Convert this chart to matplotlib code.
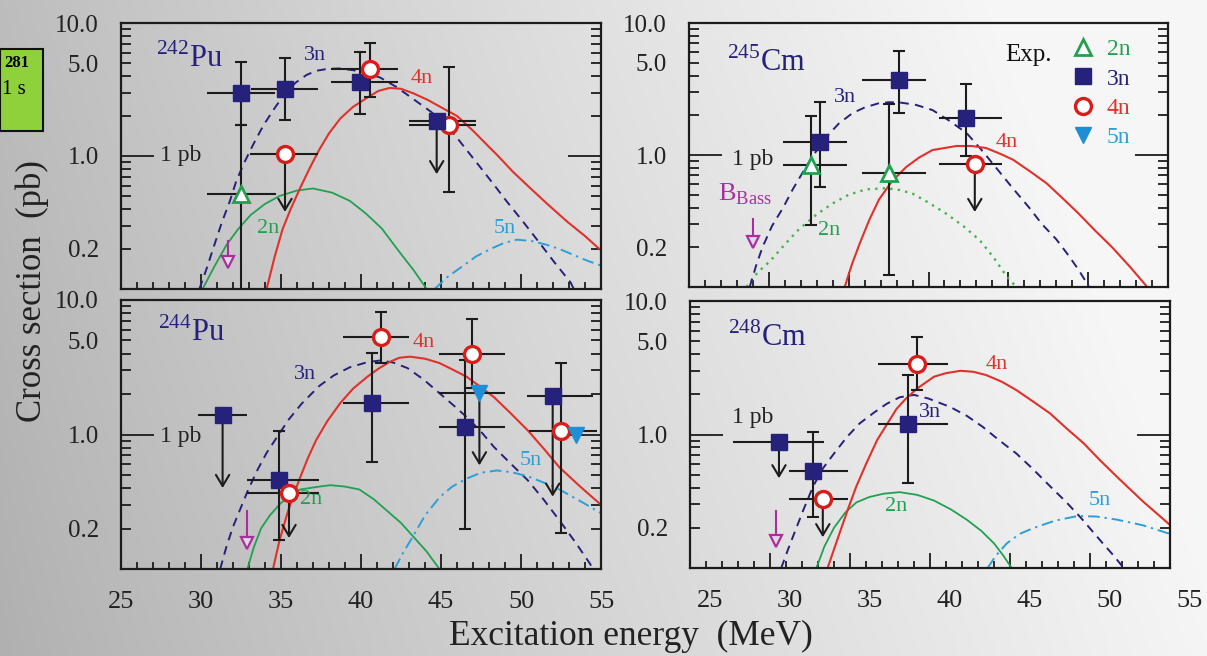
import matplotlib
matplotlib.use("Agg")
import matplotlib.pyplot as plt
import matplotlib.transforms as mtransforms
from matplotlib.lines import Line2D
from matplotlib.patches import Rectangle
from matplotlib.ticker import MultipleLocator, LogLocator, NullFormatter
import numpy as np

plt.rcParams["font.family"] = ["Liberation Serif", "DejaVu Serif"]
plt.rcParams["mathtext.fontset"] = "custom"
plt.rcParams["mathtext.rm"] = "Liberation Serif"

NAVY = "#26217a"
RED = "#e0312b"
RED_MK = "#d81e1a"
GREEN = "#22a050"
GREEN_DOT = "#4cb04c"
BLUE = "#2c9fd9"
BLUE_MK = "#1e8fd6"
MAGENTA = "#a8309e"
INK = "#1c1c1c"

X_TICKS = [25, 30, 35, 40, 45, 50, 55]
Y_TICKS = [0.2, 1.0, 5.0, 10.0]
Y_TICK_LABELS = ["0.2", "1.0", "5.0", "10.0"]

# ---------------------------------------------------------------- 242Pu
pu242_2n = [(30.1, 0.10), (30.8, 0.145), (31.6, 0.215), (32.3, 0.28), (33.1, 0.36),
            (34.0, 0.436), (34.9, 0.50), (36.0, 0.55), (37.0, 0.57), (38.2, 0.53),
            (39.3, 0.46), (40.3, 0.37), (41.3, 0.285), (42.4, 0.19), (43.3, 0.138),
            (44.1, 0.10)]
pu242_3n = [(29.9, 0.10), (30.4, 0.148), (30.75, 0.20), (31.3, 0.316), (31.8, 0.457),
            (32.2, 0.646), (32.7, 0.89), (33.3, 1.245), (33.9, 1.70), (34.6, 2.29),
            (35.25, 2.95), (35.9, 3.55), (36.6, 4.07), (37.2, 4.37), (37.9, 4.52),
            (38.7, 4.55), (39.5, 4.42), (40.3, 4.22), (41.2, 3.89), (42.2, 3.31),
            (43.25, 2.69), (44.4, 2.14), (45.6, 1.58), (46.5, 1.15), (47.5, 0.81),
            (48.3, 0.61), (49.1, 0.457), (50.1, 0.324), (51.2, 0.219), (52.1, 0.158),
            (53.1, 0.112), (53.3, 0.10)]
pu242_4n = [(34.1, 0.100), (34.6, 0.174), (35.1, 0.282), (35.6, 0.398), (36.2, 0.575),
            (36.8, 0.813), (37.4, 1.12), (38.0, 1.48), (38.7, 1.91), (39.5, 2.34),
            (40.4, 2.75), (41.1, 3.09), (41.8, 3.25), (42.5, 3.20), (43.3, 2.95),
            (44.2, 2.63), (45.1, 2.29), (46.0, 2.0), (47.0, 1.55), (48.0, 1.17),
            (48.5, 1.02), (49.5, 0.76), (50.6, 0.57), (51.7, 0.43), (52.9, 0.32),
            (54.0, 0.25), (55.0, 0.195)]
pu242_5n = [(44.6, 0.10), (45.4, 0.123), (46.4, 0.15), (47.2, 0.176), (48.1, 0.20),
            (48.9, 0.221), (49.75, 0.235), (50.7, 0.229), (51.6, 0.215), (52.4, 0.20),
            (53.3, 0.18), (54.1, 0.164), (55.0, 0.15)]
# measured: (channel, E, sigma, E_lo, E_hi, sigma_lo, sigma_hi)
pu242_pts = [("2n", 32.5, 0.52, 30.4, 34.7, 0.05, 1.72),
             ("3n", 32.5, 3.0, 30.4, 34.6, 1.72, 5.1),
             ("3n", 35.25, 3.2, 33.1, 37.3, 1.87, 5.5),
             ("3n", 39.94, 3.6, 38.1, 42.3, 2.08, 6.1),
             ("4n", 40.56, 4.5, 38.1, 42.3, 2.8, 7.05),
             ("4n", 45.5, 1.72, 43.0, 47.2, 0.54, 4.67)]
# upper limits: (channel, E, sigma, E_lo, E_hi, arrow_end)
pu242_lim = [("3n", 44.73, 1.82, 43.0, 47.2, 0.73),
             ("4n", 35.25, 1.03, 33.06, 37.3, 0.38)]
pu242_bass = (31.67, 0.16, 0.23)

# ---------------------------------------------------------------- 245Cm
cm245_2n = [(28.6, 0.10), (29.3, 0.129), (30.1, 0.158), (31.0, 0.21), (31.9, 0.275),
            (33.0, 0.355), (34.0, 0.43), (35.0, 0.50), (36.1, 0.55), (37.4, 0.56),
            (38.2, 0.543), (39.0, 0.51), (40.0, 0.436), (41.1, 0.36), (42.2, 0.288),
            (43.2, 0.227), (44.1, 0.166), (44.9, 0.12), (45.5, 0.10)]
cm245_3n = [(28.8, 0.10), (29.2, 0.145), (29.6, 0.20), (30.2, 0.29), (30.9, 0.40),
            (31.5, 0.55), (32.1, 0.73), (32.8, 1.0), (33.6, 1.37), (34.4, 1.74),
            (35.25, 2.08), (36.0, 2.29), (36.9, 2.47), (37.5, 2.51), (38.2, 2.5),
            (39.2, 2.4), (40.25, 2.19), (41.3, 1.82), (42.4, 1.46), (43.3, 1.10),
            (44.2, 0.81), (45.2, 0.575), (46.3, 0.40), (47.1, 0.30), (48.0, 0.23),
            (48.7, 0.178), (49.4, 0.135), (50.06, 0.10)]
cm245_4n = [(34.75, 0.10), (35.2, 0.148), (35.7, 0.215), (36.3, 0.324), (36.9, 0.46),
            (37.7, 0.63), (38.6, 0.81), (39.4, 0.955), (40.25, 1.09), (41.75, 1.17),
            (42.7, 1.17), (43.6, 1.13), (44.5, 1.02), (45.3, 0.92), (46.3, 0.76),
            (47.4, 0.61), (48.4, 0.47), (49.4, 0.36), (50.4, 0.27), (51.5, 0.20),
            (52.6, 0.143), (53.7, 0.10)]
cm245_pts = [("2n", 32.67, 0.84, 30.9, 34.9, 0.295, 1.97),
             ("2n", 37.5, 0.73, 35.86, 39.86, 0.124, 2.43),
             ("3n", 33.23, 1.26, 30.9, 34.9, 0.57, 2.53),
             ("3n", 38.14, 3.7, 35.86, 39.86, 2.08, 6.17),
             ("3n", 42.35, 1.9, 40.65, 44.6, 0.98, 3.45)]
cm245_lim = [("4n", 42.9, 0.85, 40.65, 44.6, 0.37)]
cm245_bass = (28.98, 0.22, 0.33)

# ---------------------------------------------------------------- 244Pu
pu244_2n = [(32.9, 0.10), (33.3, 0.145), (33.75, 0.20), (34.3, 0.25), (35.0, 0.31),
            (35.6, 0.35), (36.2, 0.39), (36.8, 0.40), (37.4, 0.41), (38.1, 0.42),
            (39.0, 0.41), (39.9, 0.39), (40.8, 0.33), (41.8, 0.26), (42.5, 0.22),
            (43.25, 0.175), (44.1, 0.135), (44.9, 0.10)]
pu244_3n = [(31.2, 0.10), (31.6, 0.148), (32.0, 0.206), (32.94, 0.386), (33.5, 0.537),
            (34.1, 0.73), (34.8, 0.977), (35.5, 1.3), (36.3, 1.7), (37.4, 2.3),
            (38.3, 2.75), (39.3, 3.16), (40.4, 3.45), (41.2, 3.55), (42.0, 3.43),
            (42.9, 3.12), (43.9, 2.57), (44.9, 2.03), (45.8, 1.64), (46.6, 1.35),
            (47.5, 1.05), (48.3, 0.81), (49.4, 0.60), (50.4, 0.46), (51.4, 0.33),
            (52.4, 0.23), (53.4, 0.158), (54.3, 0.11), (54.5, 0.10)]
pu244_4n = [(34.5, 0.10), (34.9, 0.162), (35.4, 0.26), (35.8, 0.359), (36.2, 0.48),
            (36.7, 0.676), (37.2, 0.91), (37.9, 1.26), (38.7, 1.71), (39.5, 2.19),
            (40.4, 2.69), (41.1, 3.09), (41.8, 3.47), (42.4, 3.72), (43.06, 3.79),
            (44.0, 3.66), (44.9, 3.4), (45.7, 3.05), (46.6, 2.69), (47.4, 2.29),
            (48.3, 1.9), (49.3, 1.46), (50.4, 1.08), (51.4, 0.79), (52.4, 0.57),
            (53.7, 0.41), (55.0, 0.30)]
pu244_5n = [(42.1, 0.10), (42.6, 0.13), (43.25, 0.175), (44.0, 0.25), (44.9, 0.34),
            (45.7, 0.41), (46.6, 0.47), (47.5, 0.52), (48.5, 0.54), (49.4, 0.525),
            (50.4, 0.49), (51.4, 0.44), (52.4, 0.39), (53.7, 0.32), (55.0, 0.26)]
pu244_pts = [("3n", 34.9, 0.46, 32.9, 37.4, 0.165, 1.07),
             ("3n", 40.67, 1.72, 38.9, 43.0, 0.62, 4.06),
             ("3n", 46.5, 1.14, 44.9, 49.0, 0.197, 3.58),
             ("4n", 41.25, 5.28, 38.9, 43.0, 3.4, 8.2),
             ("4n", 46.96, 3.97, 44.9, 49.0, 2.2, 7.2),
             ("4n", 52.5, 1.06, 50.5, 54.75, 0.185, 3.38),
             ("5n", 53.44, 1.0, None, None, None, None)]
pu244_lim = [("3n", 31.35, 1.40, 29.8, 32.9, 0.40),
             ("3n", 51.98, 1.93, 50.4, 54.5, 0.345),
             ("4n", 35.5, 0.37, 32.9, 37.4, 0.17),
             ("5n", 47.4, 2.02, 44.9, 49.0, 0.59)]
pu244_bass = (32.85, 0.155, 0.27)

# ---------------------------------------------------------------- 248Cm
cm248_2n = [(32.9, 0.10), (33.4, 0.145), (34.0, 0.20), (34.7, 0.26), (35.4, 0.31),
            (36.2, 0.34), (37.1, 0.36), (38.1, 0.37), (39.2, 0.353), (40.25, 0.32),
            (41.3, 0.275), (42.3, 0.23), (43.2, 0.19), (44.0, 0.153), (44.6, 0.123),
            (45.1, 0.10)]
cm248_3n = [(30.7, 0.10), (31.1, 0.135), (31.5, 0.18), (32.1, 0.275), (32.7, 0.41),
            (33.3, 0.556), (34.0, 0.72), (34.8, 0.955), (35.6, 1.21), (36.5, 1.46),
            (37.3, 1.7), (38.1, 1.9), (39.0, 1.98), (39.9, 1.86), (41.25, 1.61),
            (42.3, 1.38), (43.3, 1.14), (44.3, 0.91), (45.4, 0.72), (46.4, 0.556),
            (47.5, 0.41), (48.5, 0.313), (49.4, 0.24), (50.8, 0.153), (51.5, 0.123),
            (52.1, 0.10)]
cm248_4n = [(33.6, 0.10), (34.0, 0.138), (34.4, 0.19), (34.9, 0.282), (35.4, 0.41),
            (36.0, 0.60), (36.7, 0.91), (37.9, 1.55), (38.5, 1.86), (39.2, 2.21),
            (40.25, 2.71), (41.0, 2.88), (41.9, 3.0), (42.7, 2.95), (43.5, 2.79),
            (44.5, 2.48), (45.4, 2.15), (46.4, 1.78), (47.5, 1.44), (48.5, 1.12),
            (49.6, 0.86), (50.6, 0.646), (51.7, 0.48), (53.3, 0.316), (55.0, 0.21)]
cm248_5n = [(43.6, 0.10), (44.1, 0.123), (44.8, 0.153), (45.6, 0.18), (46.5, 0.20),
            (47.8, 0.226), (49.2, 0.245), (50.4, 0.243), (51.7, 0.23), (53.3, 0.209),
            (55.0, 0.18)]
cm248_pts = [("3n", 32.7, 0.53, 31.2, 34.9, 0.24, 1.05),
             ("3n", 38.65, 1.2, 36.75, 41.1, 0.43, 2.79),
             ("4n", 39.2, 3.36, 36.75, 41.1, 2.15, 5.4)]
cm248_lim = [("3n", 30.56, 0.88, 27.7, 33.4, 0.47),
             ("4n", 33.3, 0.33, 31.2, 34.9, 0.17)]
cm248_bass = (30.4, 0.16, 0.265)

MARKERS = {
    "2n": dict(marker="^", ms=11, mfc="white", mec=GREEN, mew=2.0),
    "3n": dict(marker="s", ms=11, mfc=NAVY, mec=NAVY, mew=1.0),
    "4n": dict(marker="o", ms=11.5, mfc="white", mec=RED_MK, mew=2.4),
    "5n": dict(marker="v", ms=12, mfc=BLUE_MK, mec=BLUE_MK, mew=1.0),
}
CURVE_STYLE = {
    "2n": dict(color=GREEN, lw=1.3, ls="-"),
    "2n_dot": dict(color=GREEN_DOT, lw=1.7, ls=(0, (1, 2.2))),
    "3n": dict(color=NAVY, lw=1.4, ls=(0, (4.5, 3.2))),
    "4n": dict(color=RED, lw=1.5, ls="-"),
    "5n": dict(color=BLUE, lw=1.4, ls=(0, (6, 2.5, 1.2, 2.5))),
}
LABEL_COLOR = {"2n": GREEN, "3n": NAVY, "4n": RED, "5n": BLUE}

W, H = 1207, 656
fig = plt.figure(figsize=(W / 100, H / 100), dpi=100)

# background gradient
bg = fig.add_axes([0, 0, 1, 1], zorder=-10)
gx, gy = np.meshgrid(np.linspace(0, 1, 300), np.linspace(0, 1, 160))
shade = np.clip(0.69 + 0.27 * gx ** 0.9 + 0.05 * (1 - gy), 0, 0.965)
bg.imshow(np.dstack([shade] * 3), aspect="auto", extent=[0, 1, 0, 1], origin="upper")
bg.set_axis_off()


def px_axes(x0, x1, y0, y1):
    return fig.add_axes([x0 / W, 1 - y1 / H, (x1 - x0) / W, (y1 - y0) / H])


def style_axis(ax, show_xlabels, label_shift_px=0):
    ax.set_yscale("log")
    ax.set_xlim(25, 55)
    ax.set_ylim(0.1, 10)
    ax.set_facecolor("none")
    for sp in ax.spines.values():
        sp.set_linewidth(1.6)
        sp.set_color(INK)
    ax.set_xticks(X_TICKS, labels=[str(t) for t in X_TICKS])
    ax.xaxis.set_minor_locator(MultipleLocator(1))
    ax.set_yticks(Y_TICKS, labels=Y_TICK_LABELS)
    ax.yaxis.set_minor_locator(LogLocator(base=10, subs=range(2, 10)))
    ax.yaxis.set_minor_formatter(NullFormatter())
    ax.tick_params(axis="both", which="both", direction="in", color=INK, width=1.3,
                   labelcolor="#222222")
    ax.tick_params(axis="x", which="major", length=11, labelsize=19, pad=16,
                   labelbottom=show_xlabels, top=False)
    ax.tick_params(axis="x", which="minor", length=5, top=False)
    ax.tick_params(axis="y", which="both", length=7, left=True, right=True,
                   labelsize=18, pad=16)
    for tick, val in zip(ax.yaxis.get_major_ticks(), Y_TICKS):
        if val == 1.0:
            tick.tick1line.set_markersize(24)
            tick.tick2line.set_markersize(24)
    if show_xlabels and label_shift_px:
        shift = mtransforms.ScaledTranslation(label_shift_px / 100, 0, fig.dpi_scale_trans)
        for lab in ax.get_xticklabels():
            lab.set_transform(lab.get_transform() + shift)


def draw_panel(ax, curves, pts, lims, bass):
    for key, data in curves:
        e, s = zip(*data)
        ax.plot(e, s, zorder=2, **CURVE_STYLE[key])
    for ch, e, s, elo, ehi, slo, shi in pts:
        if elo is not None:
            ax.errorbar([e], [s], xerr=[[e - elo], [ehi - e]], fmt="none", ecolor=INK,
                        elinewidth=1.5, capsize=0, zorder=3)
            ax.errorbar([e], [s], yerr=[[s - slo], [shi - s]], fmt="none", ecolor=INK,
                        elinewidth=1.5, capsize=4, capthick=1.5, zorder=3)
        ax.plot([e], [s], ls="none", zorder=5, **MARKERS[ch])
    for ch, e, s, elo, ehi, send in lims:
        ax.errorbar([e], [s], xerr=[[e - elo], [ehi - e]], fmt="none", ecolor=INK,
                    elinewidth=1.5, capsize=0, zorder=3)
        ax.annotate("", xy=(e, send), xytext=(e, s), zorder=3,
                    arrowprops=dict(arrowstyle="->,head_length=0.5,head_width=0.3",
                                    color=INK, lw=1.5, mutation_scale=16,
                                    shrinkA=0, shrinkB=0))
        ax.plot([e], [s], ls="none", zorder=5, **MARKERS[ch])
    be, bs, btop = bass
    ax.plot([be, be], [btop, bs], color=MAGENTA, lw=1.5, zorder=4)
    ax.plot([be], [bs], marker="v", ms=9, mfc="#e4d8e4", mec=MAGENTA, mew=1.6,
            ls="none", zorder=4)


def put_labels(ax, items, nucleus, npos, pb_pos):
    for key, e, s in items:
        ax.text(e, s, key, color=LABEL_COLOR[key], fontsize=16, ha="center", va="center")
    ax.text(npos[0], npos[1], nucleus, color=NAVY, fontsize=22, ha="left", va="center")
    ax.text(pb_pos[0], pb_pos[1], "1 pb", color="#222222", fontsize=17, ha="left",
            va="center")


ax_tl = px_axes(121, 601, 23, 289)
ax_tr = px_axes(689, 1168, 23, 287)
ax_bl = px_axes(121, 601, 300, 569)
ax_br = px_axes(690, 1170, 301, 568)

style_axis(ax_tl, False)
style_axis(ax_tr, False)
style_axis(ax_bl, True)
style_axis(ax_br, True, label_shift_px=20)

draw_panel(ax_tl, [("2n", pu242_2n), ("3n", pu242_3n), ("4n", pu242_4n), ("5n", pu242_5n)],
           pu242_pts, pu242_lim, pu242_bass)
draw_panel(ax_tr, [("2n_dot", cm245_2n), ("3n", cm245_3n), ("4n", cm245_4n)],
           cm245_pts, cm245_lim, cm245_bass)
draw_panel(ax_bl, [("2n", pu244_2n), ("3n", pu244_3n), ("4n", pu244_4n), ("5n", pu244_5n)],
           pu244_pts, pu244_lim, pu244_bass)
draw_panel(ax_br, [("2n", cm248_2n), ("3n", cm248_3n), ("4n", cm248_4n), ("5n", cm248_5n)],
           cm248_pts, cm248_lim, cm248_bass)

put_labels(ax_tl, [("3n", 37.1, 5.7), ("2n", 34.2, 0.285), ("4n", 43.8, 3.83), ("5n", 49.0, 0.285)],
           r"$^{\mathrm{242}}$Pu", (27.2, 5.4), (27.45, 1.0))
put_labels(ax_tr, [("3n", 34.75, 2.75), ("4n", 44.9, 1.25), ("2n", 33.8, 0.27)],
           r"$^{\mathrm{245}}$Cm", (27.4, 5.0), (27.7, 0.93))
put_labels(ax_bl, [("3n", 36.5, 2.77), ("2n", 36.9, 0.326), ("4n", 43.9, 4.8), ("5n", 50.6, 0.646)],
           r"$^{\mathrm{244}}$Pu", (27.3, 5.7), (27.45, 0.96))
put_labels(ax_br, [("4n", 44.2, 3.32), ("3n", 40.0, 1.45), ("2n", 37.9, 0.287), ("5n", 50.6, 0.32)],
           r"$^{\mathrm{248}}$Cm", (27.4, 5.3), (27.6, 1.33))

ax_tr.text(26.8, 0.5, r"B$_{\mathrm{Bass}}$", color=MAGENTA, fontsize=19, ha="left", va="center")
ax_tr.text(44.8, 5.7, "Exp.", color="#111111", fontsize=18, ha="left", va="center")

handles = [Line2D([], [], ls="none", **MARKERS[k]) for k in ["2n", "3n", "4n", "5n"]]
leg = ax_tr.legend(handles, ["2n", "3n", "4n", "5n"], loc="upper left",
                   bbox_to_anchor=(0.774, 0.985), frameon=False, fontsize=17,
                   handlelength=1.0, handletextpad=0.5, labelspacing=0.33, borderpad=0)
for txt, k in zip(leg.get_texts(), ["2n", "3n", "4n", "5n"]):
    txt.set_color(LABEL_COLOR[k])

fig.text(32 / W, 1 - 291 / H, "Cross section  (pb)", rotation=90, fontsize=25,
         ha="center", va="center", color="#222222")
fig.text(631 / W, 1 - 636 / H, "Excitation energy  (MeV)", fontsize=25.5,
         ha="center", va="center", color="#222222")

# cropped nuclide-chart cell at the left edge
fig.patches.append(Rectangle((0, 1 - 131 / H), 43 / W, 82 / H, transform=fig.transFigure,
                             facecolor="#8fd13a", edgecolor="#111111", lw=1.5, zorder=1))
fig.text(29 / W, 1 - 63 / H, "281", fontsize=12, fontweight="bold", ha="right", va="center")
fig.text(26 / W, 1 - 90 / H, "1 s", fontsize=15, ha="right", va="center")

fig.savefig("out.png", dpi=100)
